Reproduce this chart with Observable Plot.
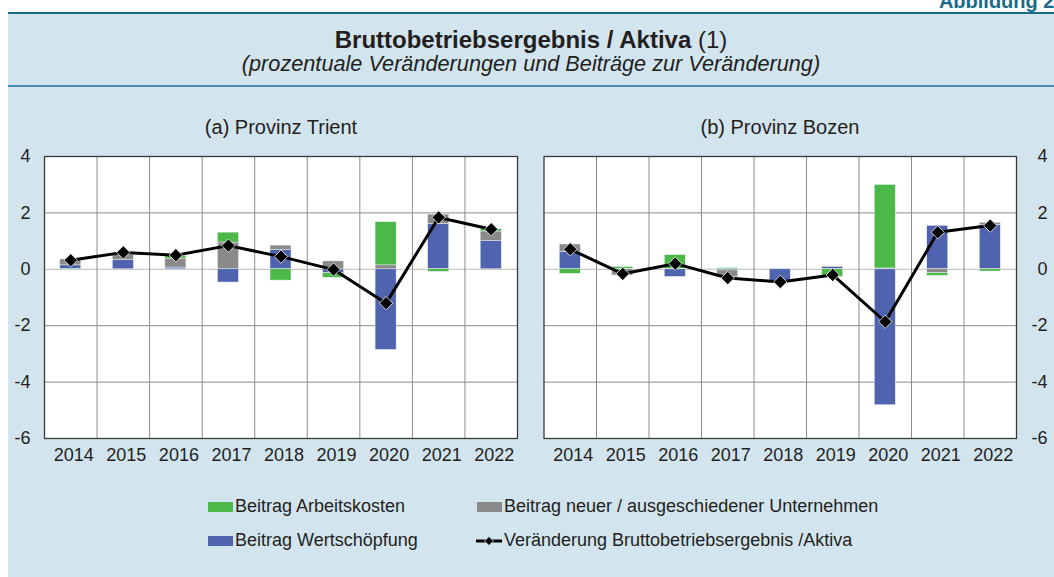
<!DOCTYPE html>
<html><head><meta charset="utf-8">
<script src="https://cdn.jsdelivr.net/npm/d3@7"></script>
<script src="https://cdn.jsdelivr.net/npm/@observablehq/plot@0.6"></script>
<style>
html,body{margin:0;padding:0}
body{width:1054px;height:577px;background:#fff;overflow:hidden;font-family:"Liberation Sans",Arial,sans-serif;position:relative;color:#231f20}
#bg{position:absolute;left:8px;top:12px;width:1046px;height:565px;background:#d2e4ee;border-top:2.5px solid #1b6a8a;box-sizing:border-box}
#sep{position:absolute;left:8px;top:85px;width:1046px;height:2px;background:#4a8db0}
#abb{position:absolute;right:-6px;top:-10px;font-weight:bold;font-size:20px;line-height:22px;color:#1b6a8a;white-space:nowrap}
#title{position:absolute;left:8px;width:1046px;top:26px;text-align:center;font-size:24px;line-height:28px}
#sub{position:absolute;left:8px;width:1046px;top:52px;text-align:center;font-size:21.7px;line-height:24px;font-style:italic}
.ptitle{position:absolute;top:115px;font-size:20px;line-height:24px;text-align:center;width:320px}
.pl{position:absolute;top:140px}
.leg{position:absolute;font-size:18px;line-height:21px;display:flex;align-items:center;white-space:nowrap}
.sw{display:inline-block;width:25px;height:10px;margin-right:2px}
</style>
</head><body>
<div id="bg"></div>
<div id="sep"></div>
<div id="abb">Abbildung 2.</div>
<div id="title"><b>Bruttobetriebsergebnis / Aktiva</b> (1)</div>
<div id="sub">(prozentuale Veränderungen und Beiträge zur Veränderung)</div>
<div class="ptitle" style="left:121px">(a) Provinz Trient</div>
<div class="ptitle" style="left:620px">(b) Provinz Bozen</div>
<div id="left" class="pl" style="left:0px"></div>
<div id="right" class="pl" style="left:527px"></div>
<div class="leg" style="left:208px;top:496px"><span class="sw" style="background:#4cb848"></span>Beitrag Arbeitskosten</div>
<div class="leg" style="left:477px;top:496px"><span class="sw" style="background:#8a8a8a"></span>Beitrag neuer / ausgeschiedener Unternehmen</div>
<div class="leg" style="left:208px;top:530px"><span class="sw" style="background:#4f63ae"></span>Beitrag Wertschöpfung</div>
<div class="leg" style="left:475px;top:530px"><svg width="28" height="12" style="margin-right:1px"><line x1="1" y1="6" x2="27" y2="6" stroke="#000" stroke-width="3"/><path d="M14,1.5L18.5,6L14,10.5L9.5,6Z" fill="#000" stroke="#fff" stroke-width="0.7"/></svg>Veränderung Bruttobetriebsergebnis /Aktiva</div>
<script>
const years = ["2014","2015","2016","2017","2018","2019","2020","2021","2022"];
const seriesNames = ["Beitrag Wertschöpfung","Beitrag neuer / ausgeschiedener Unternehmen","Beitrag Arbeitskosten"];
const seriesColors = ["#4f63ae","#8a8a8a","#4cb848"];
const yTicks = [-6,-4,-2,0,2,4];

// (a) Provinz Trient
const trientWert   = [0.14, 0.34, 0.06, -0.47, 0.68, -0.14, -2.86, 1.61, 1.00];
const trientNeu    = [0.21, 0.18, 0.32, 0.95, 0.16, 0.28, 0.14, 0.33, 0.34];
const trientArbeit = [-0.02, 0.06, 0.08, 0.35, -0.40, -0.16, 1.53, -0.09, 0.08];
const trientChange = [0.32, 0.60, 0.50, 0.84, 0.45, -0.01, -1.20, 1.84, 1.42];

// (b) Provinz Bozen
const bozenWert   = [0.61, 0.02, -0.27, -0.04, -0.42, 0.08, -4.82, 1.54, 1.58];
const bozenNeu    = [0.27, -0.22, 0.02, -0.24, -0.03, 0.02, 0.03, -0.14, 0.07];
const bozenArbeit = [-0.16, 0.06, 0.48, 0.04, 0.00, -0.27, 2.96, -0.09, -0.08];
const bozenChange = [0.71, -0.16, 0.20, -0.31, -0.45, -0.20, -1.86, 1.31, 1.55];

function panel(wert, neu, arbeit, change, side) {
  const bars = [];
  years.forEach((y, i) => {
    bars.push({year: y, series: seriesNames[0], value: wert[i]});
    bars.push({year: y, series: seriesNames[1], value: neu[i]});
    bars.push({year: y, series: seriesNames[2], value: arbeit[i]});
  });
  const line = years.map((y, i) => ({year: y, value: change[i]}));
  const W = 527;
  const mL = side === "left" ? 44 : 16.5;
  const mR = side === "left" ? 10 : 38;
  const step = (W - mL - mR) / years.length;
  return Plot.plot({
    width: W, height: 330,
    marginTop: 16, marginBottom: 32, marginLeft: mL, marginRight: mR,
    style: {background: "transparent", fontFamily: "'Liberation Sans', Arial, sans-serif", fontSize: "18px", color: "#231f20"},
    x: {domain: years, paddingInner: 0.6, paddingOuter: 0.3, round: false, label: null},
    y: {domain: [-6, 4], label: null},
    color: {domain: seriesNames, range: seriesColors},
    marks: [
      Plot.frame({fill: "white", stroke: null}),
      Plot.ruleY([-4, -2, 2], {stroke: "#8c8c8c", strokeWidth: 1}),
      Plot.ruleY([0], {stroke: "#c8c8c8", strokeWidth: 1.2}),
      Plot.ruleX(years.slice(0, -1), {dx: step / 2, stroke: "#8c8c8c", strokeWidth: 1}),
      Plot.barY(bars, Plot.stackY({x: "year", y: "value", fill: "series", order: seriesNames, stroke: "#e8eef4", strokeWidth: 0.5})),
      Plot.line(line, {x: "year", y: "value", stroke: "#000", strokeWidth: 3}),
      Plot.dot(line, {x: "year", y: "value", symbol: "diamond2", r: 6, fill: "#000", stroke: "#fff", strokeWidth: 0.8}),
      Plot.frame({stroke: "#3a3a3a", strokeWidth: 1.3}),
      Plot.axisX({tickSize: 0, tickPadding: 10, dx: 3}),
      side === "left"
        ? Plot.axisY({anchor: "left", ticks: yTicks, tickSize: 0, tickPadding: 14, tickFormat: d => d})
        : Plot.axisY({anchor: "right", ticks: yTicks, tickSize: 0, tickPadding: 31, textAnchor: "end", tickFormat: d => d})
    ]
  });
}
document.getElementById("left").append(panel(trientWert, trientNeu, trientArbeit, trientChange, "left"));
document.getElementById("right").append(panel(bozenWert, bozenNeu, bozenArbeit, bozenChange, "right"));
</script>
</body></html>
